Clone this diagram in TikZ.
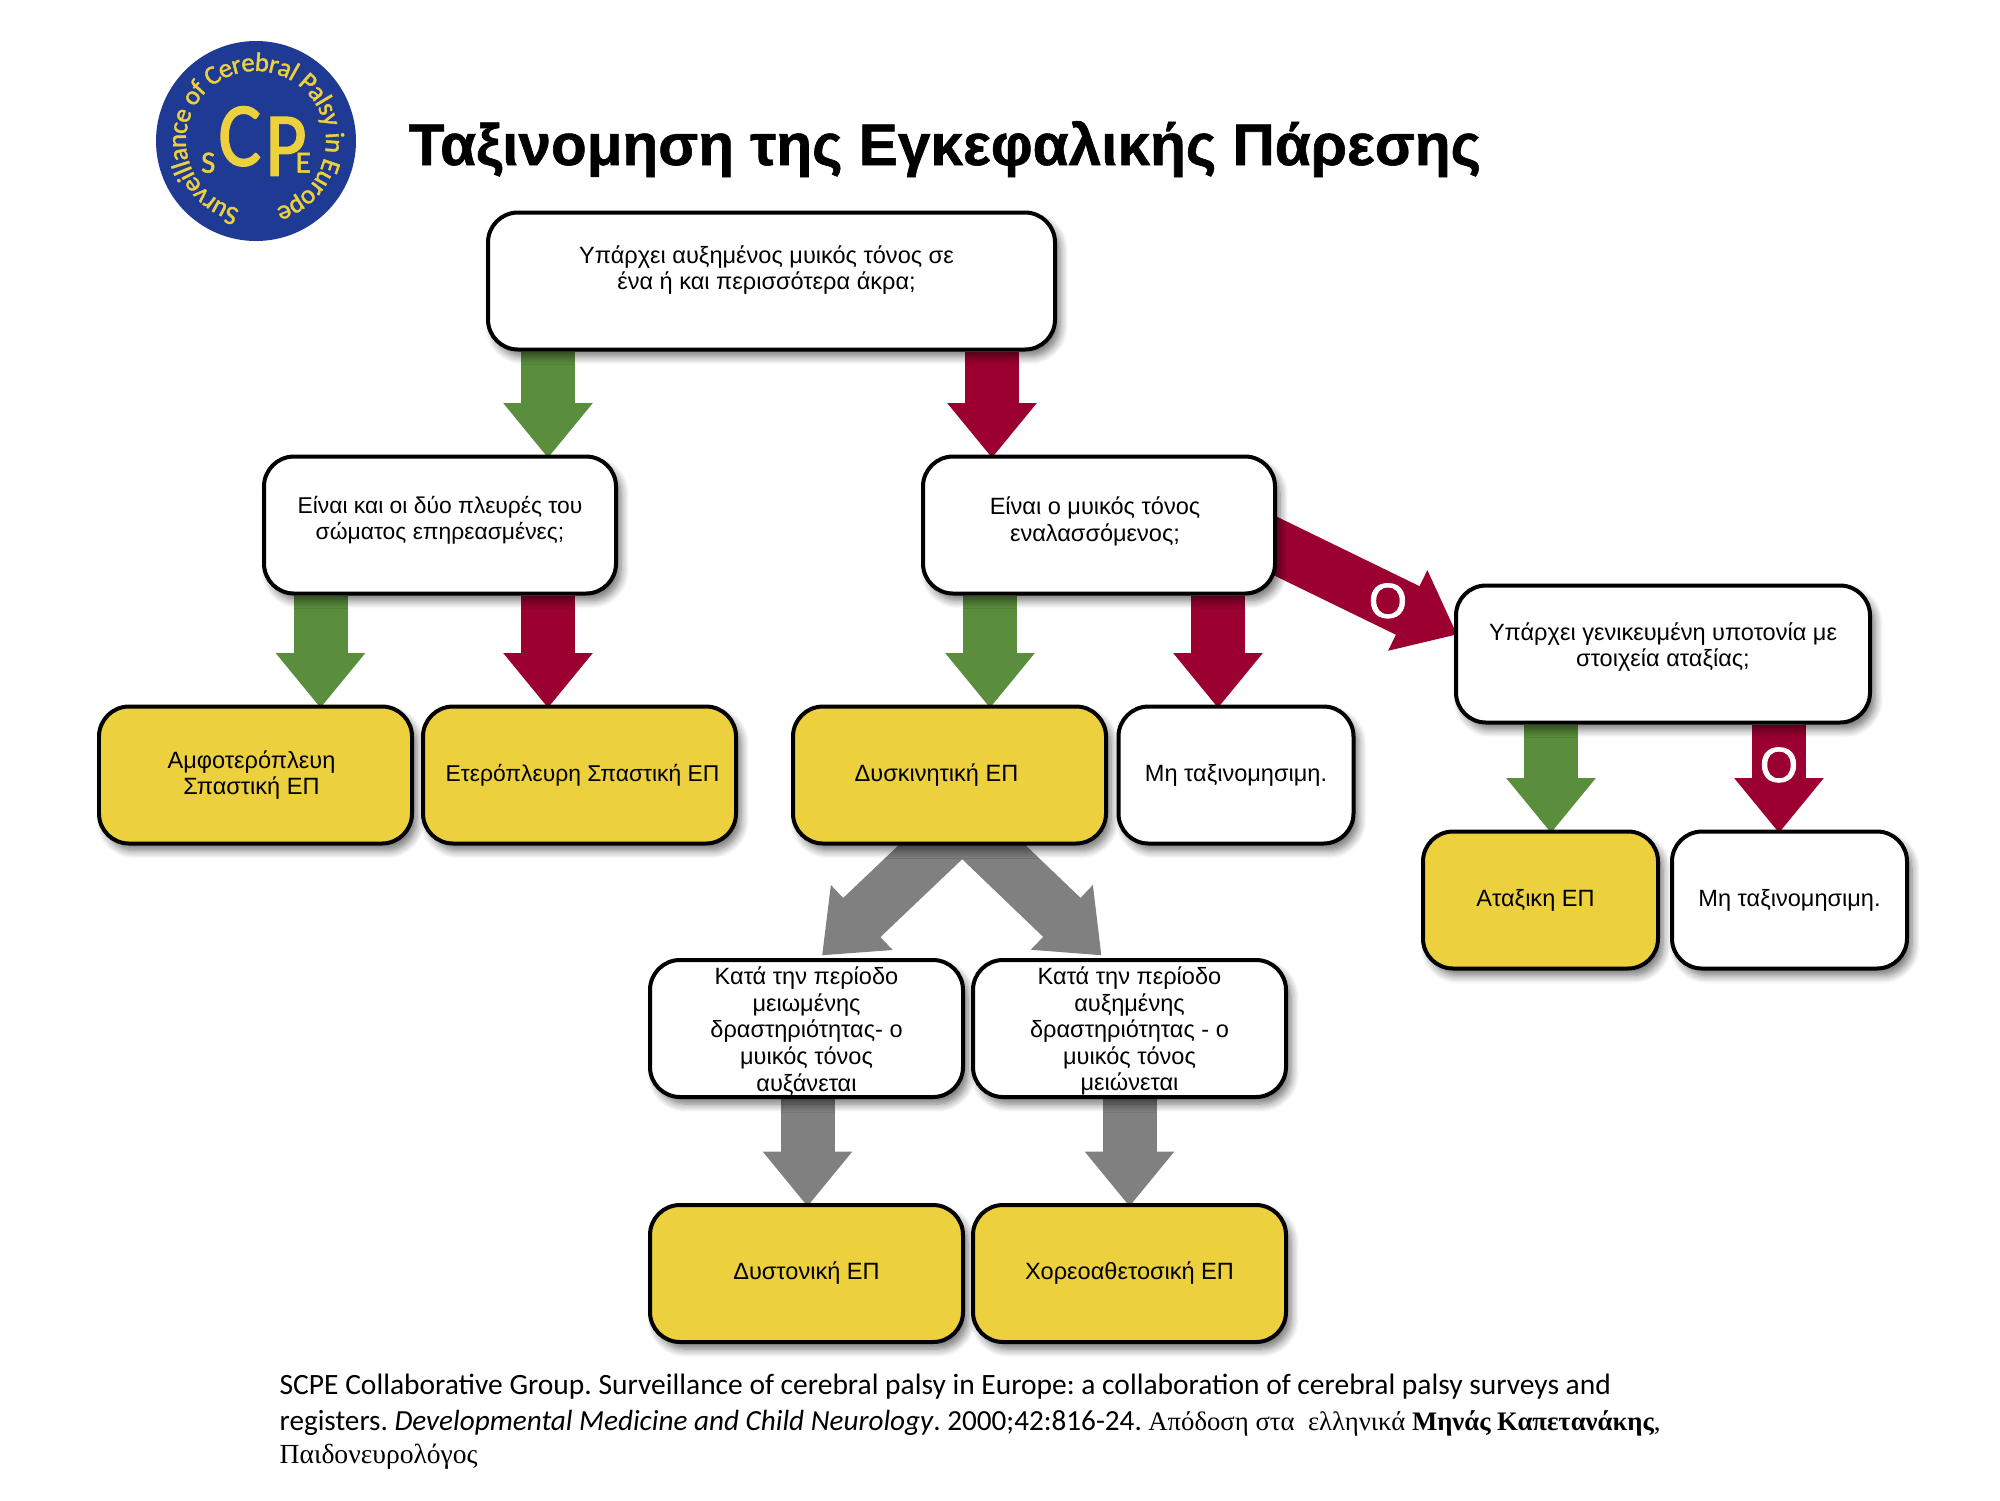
\documentclass[tikz,border=0pt]{standalone}
\usepackage{fontspec}
\setmainfont{Liberation Sans}
\newfontfamily\refsans{Carlito}
\newfontfamily\refserif{Liberation Serif}
\newfontfamily\logosans[FakeBold=1.5]{Carlito}
\usepackage{tikz}
\usetikzlibrary{arrows.meta, backgrounds, decorations.text, shadows.blur}
\definecolor{okgreen}{RGB}{90,142,60}
\definecolor{nored}{RGB}{156,0,48}
\definecolor{leafyellow}{RGB}{236,208,62}
\definecolor{logoblue}{RGB}{31,58,147}
\tikzset{
  qbox/.style = {shape=rectangle, rounded corners=0.3cm,
                 draw=black, line width=0.04cm, fill=white, anchor=center,
                 minimum height=1.37cm, align=center, inner sep=0pt,
                 font=\fontsize{6.7}{7.55}\selectfont,
                 blur shadow={shadow xshift=0.05cm, shadow yshift=-0.07cm,
                              shadow blur radius=0.08cm, shadow blur steps=8, shadow opacity=55}},
  bigq/.style = {qbox, minimum width=5.67cm},
  midq/.style = {qbox, minimum width=3.52cm},
  wideq/.style = {qbox, minimum width=4.14cm},
  leaf/.style = {qbox, minimum width=3.13cm},
  smallq/.style = {qbox, minimum width=2.35cm},
  ep/.style = {fill=leafyellow},
  block/.style = {line width=0.54cm, shorten >=-0.035cm, -{Triangle[width=0.86cm, length=0.55cm]}},
  yesarrow/.style = {block, okgreen},
  noarrow/.style = {block, nored},
  grayarrow/.style = {block, gray},
  olabel/.style = {text=white, font=\fontsize{14}{14}\selectfont\addfontfeature{FakeBold=1.5}, inner sep=0pt}
}

\begin{document}
\begin{tikzpicture}[node distance=2.44cm]
            \useasboundingbox (0,0) rectangle (20,-15);
            % logo
            \node (logo) [circle, fill=logoblue, minimum size=2cm, inner sep=0pt, text=leafyellow, font=\logosans] at (2.56,-1.41)
              {\raisebox{-0.07cm}{\fontsize{8.8}{9}\selectfont S}\kern0.03cm\fontsize{26}{26}\selectfont \scalebox{0.88}[1]{C}\kern0.04cm\raisebox{-0.1cm}{\scalebox{0.88}[1]{P}}\kern-0.11cm\raisebox{-0.07cm}{\fontsize{8.8}{9}\selectfont E}};
            \path [decorate, decoration={text along path, text align=fit to path, raise=-0.08cm,
                   text={|\logosans\fontsize{7.6}{8}\selectfont\color{leafyellow}|Surveillance of Cerebral Palsy in Europe}}]
              (logo.center) ++ (256:0.78) arc (256:-73:0.78);
            \node (title) [anchor=base west, inner sep=0pt, font=\bfseries\fontsize{16.65}{17}\selectfont\addfontfeature{FakeBold=1}] at (4.08,-1.65)
              {Ταξινομηση της Εγκεφαλικής Πάρεσης};

            \node (tone) [bigq] at (7.715,-2.81) {Υπάρχει αυξημένος μυικός τόνος σε\kern0.1cm\\ ένα ή και περισσότερα άκρα;\kern0.1cm\\ ~};
            \node (both) [midq, below of=tone, xshift=-3.315cm, font=\fontsize{6.5}{7.55}\selectfont] {Είναι και οι δύο πλευρές του\\ σώματος επηρεασμένες;\\[-0.12cm] ~};
            \node (alt) [midq, below of=tone, xshift=3.275cm] {Είναι ο μυικός τόνος\kern0.08cm\\ εναλασσόμενος;\kern0.08cm\\[-0.15cm] ~};
            \node (hypo) [wideq, right of=alt, xshift=3.20cm, yshift=-1.29cm] {Υπάρχει γενικευμένη υποτονία με\\ στοιχεία αταξίας;\\[-0.08cm] ~};
            \node (bilat) [leaf, ep, below of=both, xshift=-1.845cm, yshift=-0.06cm] {Αμφοτερόπλευη\kern0.08cm\\ Σπαστική ΕΠ\kern0.08cm};
            \node (unilat) [leaf, ep, below of=both, xshift=1.395cm, yshift=-0.06cm, font=\fontsize{6.5}{7.55}\selectfont] {\hspace{0.06cm}Ετερόπλευρη Σπαστική ΕΠ};
            \node (dysk) [leaf, ep, below of=alt, xshift=-1.495cm, yshift=-0.06cm] {Δυσκινητική ΕΠ\hspace{0.26cm}};
            \node (uncl) [smallq, below of=alt, xshift=1.37cm, yshift=-0.06cm] {Μη ταξινομησιμη.};
            \node (atax) [smallq, ep, below of=hypo, xshift=-1.225cm, yshift=-0.02cm] {Αταξικη ΕΠ\hspace{0.1cm}};
            \node (uncltwo) [smallq, below of=hypo, xshift=1.265cm, yshift=-0.02cm] {Μη ταξινομησιμη.};
            \node (low) [leaf, below of=dysk, xshift=-1.43cm, yshift=-0.095cm] {\rule{0pt}{0.23cm}Κατά την περίοδο\\ μειωμένης\\ δραστηριότητας- ο\\ μυικός τόνος\\ αυξάνεται};
            \node (high) [leaf, below of=dysk, xshift=1.80cm, yshift=-0.095cm] {\rule{0pt}{0.23cm}Κατά την περίοδο\\ αυξημένης\\ δραστηριότητας - ο\\ μυικός τόνος\\ μειώνεται};
            \node (dyst) [leaf, ep, below of=low, yshift=-0.01cm] {Δυστονική ΕΠ};
            \node (chor) [leaf, ep, below of=high, yshift=-0.01cm] {Χορεοαθετοσική ΕΠ};

            \node (refs) [anchor=north west, align=left, inner sep=0pt, font=\refsans\frenchspacing\fontsize{8.3}{10.2}\selectfont] at (2.79,-13.735)
              {{\fontsize{8.39}{10.2}\selectfont SCPE Collaborative Group. Surveillance of cerebral palsy in Europe: a collaboration of cerebral palsy surveys and}\\
               registers. \textit{Developmental Medicine and Child Neurology}. 2000;42:816-24. {\refserif\fontsize{7.6}{10.2}\selectfont Απόδοση στα \ ελληνικά \textbf{Μηνάς Καπετανάκης},}\\[-0.03cm]
               {\refserif\fontsize{7.85}{10.2}\selectfont Παιδονευρολόγος}};

            \begin{scope}[on background layer]
            \draw [yesarrow] ([xshift=1.08cm]both.north |- tone.south) -- ([xshift=1.08cm]both.north);
            \draw [noarrow] ([xshift=-1.07cm]alt.north |- tone.south) -- ([xshift=-1.07cm]alt.north);
            \draw [yesarrow] ([xshift=0.65cm]bilat.north |- both.south) -- ([xshift=0.65cm]bilat.north);
            \draw [noarrow] ([xshift=-0.315cm]unilat.north |- both.south) -- ([xshift=-0.315cm]unilat.north);
            \draw [yesarrow] ([xshift=0.405cm]dysk.north |- alt.south) -- ([xshift=0.405cm]dysk.north);
            \draw [noarrow] ([xshift=-0.18cm]uncl.north |- alt.south) -- ([xshift=-0.18cm]uncl.north);
            \draw [noarrow] ([xshift=-0.25cm,yshift=-0.096cm]alt.east) -- node[pos=0.673, olabel] (orone) {O} ([yshift=0.21cm]hypo.west);
            \draw [yesarrow] ([xshift=0.105cm]atax.north |- hypo.south) -- ([xshift=0.105cm]atax.north);
            \draw [noarrow] ([xshift=-0.105cm]uncltwo.north |- hypo.south) -- node[pos=0.385, olabel] (ortwo) {O} ([xshift=-0.105cm]uncltwo.north);
            \draw [grayarrow] ([xshift=0.10cm,yshift=0.21cm]dysk.south) -- ([xshift=0.18cm,yshift=0.05cm]low.north);
            \draw [grayarrow] ([xshift=0.155cm,yshift=0.21cm]dysk.south) -- ([xshift=-0.305cm,yshift=0.05cm]high.north);
            \draw [grayarrow] ([xshift=0.01cm]dyst.north |- low.south) -- ([xshift=0.01cm]dyst.north);
            \draw [grayarrow] (chor.north |- high.south) -- (chor.north);
            \end{scope}
        \end{tikzpicture}
\end{document}
